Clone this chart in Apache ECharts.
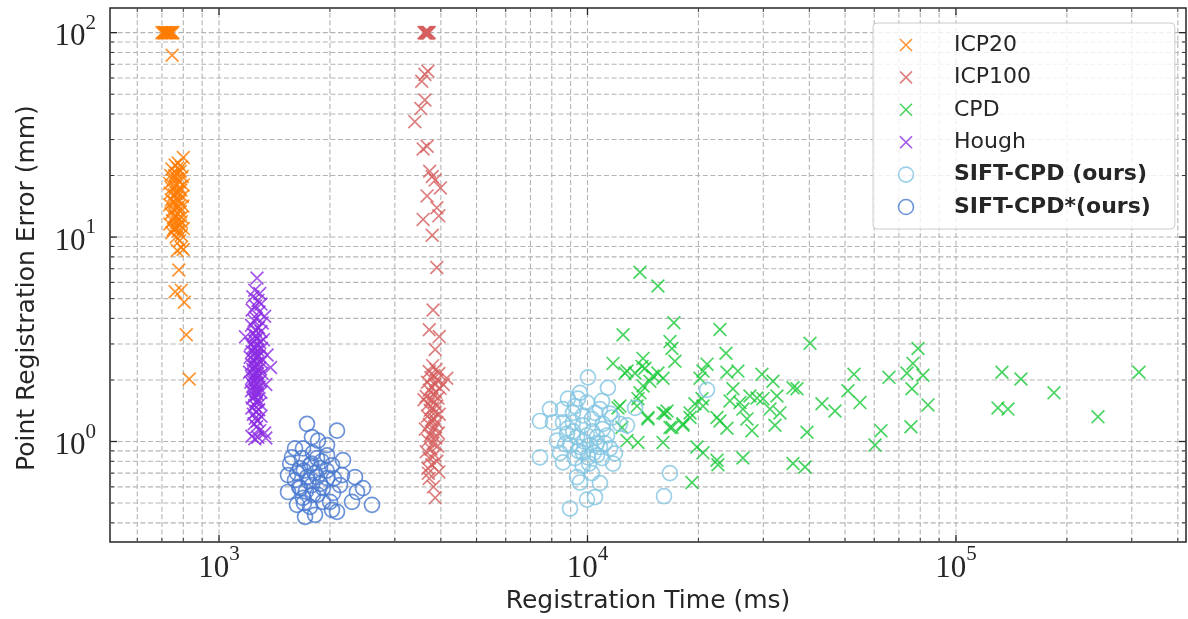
<!DOCTYPE html>
<html>
<head>
<meta charset="utf-8">
<script src="https://cdn.jsdelivr.net/npm/echarts@6/dist/echarts.min.js"></script>
<style>
  html, body { margin: 0; padding: 0; background: #ffffff; }
  #chart { width: 1188px; height: 619px; }
</style>
</head>
<body>
<div id="chart"></div>
<script>
// ---- axis ranges and tick positions ----
const X_MIN = 506, X_MAX = 421000;
const Y_MIN = 0.322, Y_MAX = 132;
const X_MAJOR = [1000, 10000, 100000];
const X_MINOR = [600, 700, 800, 900, 2000, 3000, 4000, 5000, 6000, 7000, 8000, 9000,
  20000, 30000, 40000, 50000, 60000, 70000, 80000, 90000, 200000, 300000, 400000];
const Y_MAJOR = [1, 10, 100];
const Y_MINOR = [0.4, 0.5, 0.6, 0.7, 0.8, 0.9, 2, 3, 4, 5, 6, 7, 8, 9,
  20, 30, 40, 50, 60, 70, 80, 90];

const X_TITLE = 'Registration Time (ms)';
const Y_TITLE = 'Point Registration Error (mm)';

// ---- measurements: [registration time (ms), point registration error (mm)] ----
const icp20 = [
  [700, 100], [705, 100], [710, 100], [714, 100], [718, 100], [722, 100], [726, 100],
  [730, 100], [734, 100], [738, 100], [742, 100], [746, 100], [750, 100], [712, 100],
  [746, 77.5],
  [800, 24.5], [775, 23], [760, 22.5], [790, 22], [745, 21.5], [785, 21], [765, 20.5],
  [740, 20], [795, 19.8], [770, 19.3], [750, 19], [780, 18.6], [735, 18.3], [800, 18],
  [762, 17.7], [745, 17.3], [788, 17], [772, 16.7], [738, 16.4], [755, 16.1], [795, 15.8],
  [768, 15.5], [742, 15.2], [782, 15], [758, 14.7], [735, 14.4], [798, 14.2], [770, 13.9],
  [750, 13.6], [785, 13.3], [740, 13], [762, 12.8], [792, 12.5], [775, 12.3], [748, 12],
  [768, 11.8], [735, 11.6], [785, 11.4], [758, 11.1], [800, 11], [775, 10.7], [745, 10.5],
  [790, 10.2], [765, 10], [782, 9.6], [790, 8.9], [770, 8.6], [800, 8.7], [778, 6.9],
  [760, 5.4], [790, 5.5], [805, 4.8], [815, 3.33], [830, 2.02],
  [772, 21.8], [758, 20], [782, 17.5], [765, 16.4], [752, 14.9], [778, 14.1], [760, 12.6],
  [790, 11.9], [770, 11.2], [752, 10.9]
];

const icp100 = [
  [3600, 100], [3615, 100], [3630, 100], [3645, 100], [3660, 100], [3675, 100], [3690, 100],
  [3705, 100], [3720, 100], [3640, 100], [3665, 100], [3700, 100],
  [3690, 64.7], [3620, 62.5], [3550, 57.8], [3620, 46.8], [3530, 42.5], [3400, 36.7],
  [3580, 27], [3670, 27.8], [3730, 21], [3790, 19.8], [3860, 19], [3990, 17.4], [3670, 15.9],
  [3900, 13.9], [3950, 12.7], [3580, 12.2], [3790, 10.2], [3900, 7.1], [3810, 4.4],
  [3720, 3.52], [3960, 3.26], [3860, 2.82], [4150, 2.04],
  [3800, 2.35], [3880, 2.25], [3720, 2.2], [3950, 2.15], [3830, 2.1], [3760, 2.05], [3900, 2.0],
  [3680, 1.95], [3850, 1.9], [3780, 1.85], [3980, 1.82], [3720, 1.78], [3870, 1.74], [3810, 1.7],
  [3650, 1.66], [3930, 1.63], [3760, 1.6], [3840, 1.56], [3700, 1.52], [3900, 1.49], [3790, 1.46],
  [3740, 1.42], [3860, 1.39], [3960, 1.36], [3680, 1.33], [3820, 1.3], [3770, 1.27], [3900, 1.24],
  [3720, 1.21], [3850, 1.18], [3630, 1.15], [3790, 1.12], [3940, 1.1], [3740, 1.07], [3870, 1.04],
  [3690, 1.01], [3810, 0.98], [3920, 0.95], [3760, 0.92], [3650, 0.89], [3850, 0.86], [3720, 0.83],
  [3900, 0.8], [3780, 0.77], [3690, 0.74], [3720, 0.66], [3860, 0.53], [3820, 0.6], [3950, 0.71],
  [4060, 1.9], [3600, 1.6], [3700, 0.7]
];

const cpd = [
  [13880, 6.73], [15530, 5.76], [17160, 3.81], [12490, 3.33], [16740, 3.08], [16950, 2.85],
  [17270, 2.47], [11730, 2.41], [14150, 2.55], [12640, 2.16], [13460, 2.16], [14320, 2.28],
  [15050, 2.09], [14770, 1.97], [15530, 2.16], [16030, 2.04], [14150, 1.87], [13880, 1.73],
  [13710, 1.62], [12250, 1.49], [13630, 1.49], [14590, 1.29], [16030, 1.38], [16430, 1.41],
  [16950, 1.17], [18160, 1.22], [18980, 1.38], [19570, 1.53], [20200, 2.04], [21100, 2.39],
  [20580, 2.21], [22880, 3.53], [23760, 2.70], [23910, 2.18], [25600, 2.21], [24820, 1.81],
  [24360, 1.58], [25930, 1.55], [26420, 1.44], [27600, 1.67], [28840, 1.63], [29940, 1.62],
  [29750, 2.13], [31870, 1.97], [32670, 1.67], [31280, 1.44], [33290, 1.38], [32270, 1.20],
  [22460, 1.31], [22880, 1.26], [23910, 1.16], [27090, 1.29], [27950, 1.13], [20450, 1.62],
  [20580, 1.49], [18980, 1.31], [18160, 1.20], [19820, 0.94], [20580, 0.88], [22460, 0.81],
  [22600, 0.77], [26420, 0.83], [36120, 1.83], [37030, 1.81], [40170, 3.02], [43290, 1.53],
  [46950, 1.41], [50920, 1.77], [52860, 2.13], [54880, 1.55], [39420, 1.11], [36120, 0.78],
  [38930, 0.75], [62590, 1.13], [60290, 0.96], [65800, 2.06], [19210, 0.63], [13710, 0.99],
  [16030, 0.99], [12800, 2.21], [14060, 2.33], [12100, 1.46], [14590, 1.31], [16230, 1.37],
  [16740, 1.17], [12800, 1.01], [12400, 1.17], [78880, 2.85], [76430, 2.41], [73620, 2.16],
  [81380, 2.11], [75960, 1.81], [83950, 1.51], [75480, 1.18], [133300, 2.18], [150100, 2.02],
  [184500, 1.73], [130000, 1.46], [138400, 1.44], [242900, 1.32], [313800, 2.18]
];

const hough = [
  [1268, 6.3], [1250, 5.5], [1290, 5.3], [1235, 5.1], [1275, 4.9], [1300, 4.7], [1255, 4.6],
  [1230, 4.4], [1285, 4.3], [1330, 4.1], [1262, 4.0], [1245, 3.9], [1310, 3.8], [1225, 3.7],
  [1280, 3.6], [1255, 3.5], [1300, 3.45], [1238, 3.35], [1180, 3.25], [1270, 3.2], [1320, 3.15],
  [1250, 3.1], [1290, 3.05], [1220, 3.0], [1265, 2.95], [1240, 2.9], [1305, 2.85], [1275, 2.8],
  [1230, 2.75], [1255, 2.7], [1350, 2.65], [1285, 2.62], [1215, 2.58], [1260, 2.55], [1240, 2.5],
  [1300, 2.45], [1270, 2.42], [1225, 2.38], [1250, 2.35], [1380, 2.3], [1290, 2.28], [1235, 2.25],
  [1262, 2.2], [1210, 2.18], [1310, 2.15], [1245, 2.12], [1278, 2.08], [1230, 2.05], [1258, 2.02],
  [1295, 1.98], [1220, 1.95], [1268, 1.92], [1340, 1.9], [1240, 1.87], [1285, 1.84], [1255, 1.8],
  [1225, 1.77], [1300, 1.74], [1270, 1.7], [1245, 1.67], [1235, 1.63], [1275, 1.6], [1260, 1.56],
  [1290, 1.53], [1250, 1.5], [1228, 1.46], [1282, 1.43], [1262, 1.4], [1240, 1.36], [1300, 1.33],
  [1255, 1.3], [1272, 1.26], [1245, 1.22], [1265, 1.18], [1290, 1.13], [1330, 1.10], [1228, 1.06],
  [1275, 1.05], [1340, 1.04], [1250, 1.03],
  [1258, 3.3], [1248, 2.85], [1266, 2.62], [1252, 2.3], [1272, 2.15], [1244, 1.95], [1262, 1.75]
];

const siftCpd = [
  [10030, 2.06], [11360, 1.83], [9540, 1.73], [8850, 1.62], [7910, 1.44], [7430, 1.26],
  [10950, 1.58], [9970, 1.55], [9250, 1.49], [10480, 1.38], [11650, 1.31], [8580, 1.24],
  [8265, 1.01], [9130, 1.24], [9720, 1.20], [11020, 1.22], [12250, 1.22], [12800, 1.20],
  [8800, 1.09], [9365, 1.05], [9970, 1.07], [10610, 1.05], [11300, 1.07], [8965, 0.96],
  [9540, 0.94], [10160, 0.96], [10810, 0.94], [11510, 0.925], [8420, 0.88], [7430, 0.837],
  [8580, 0.79], [9250, 0.83], [10030, 0.837], [10950, 0.83], [11730, 0.78], [9365, 0.67],
  [9540, 0.63], [10280, 0.70], [10810, 0.626], [9970, 0.52], [10480, 0.535], [8965, 0.47],
  [16740, 0.70], [16130, 0.54], [8060, 1.24], [9720, 1.34], [10280, 1.29], [10810, 1.44],
  [9130, 1.38], [8580, 1.44], [9425, 1.62], [8850, 1.16], [11150, 0.98], [11870, 0.875],
  [9720, 0.88], [10610, 0.855], [11510, 1.37], [21100, 1.79], [13460, 1.46],
  [9800, 1.0], [10300, 1.12], [9450, 0.90], [10600, 0.98], [9150, 1.12], [10100, 0.78],
  [9700, 0.76], [11000, 1.15], [8700, 0.97], [10400, 0.88]
];

const siftCpdStar = [
  [1733, 1.22], [2090, 1.13], [1788, 1.05], [1856, 1.01], [1578, 0.837], [1690, 0.925],
  [1799, 0.88], [1964, 0.855], [2170, 0.81], [1539, 0.685], [1659, 0.74], [1766, 0.765],
  [1880, 0.74], [2026, 0.765], [2157, 0.685], [2339, 0.67], [2459, 0.592], [2601, 0.49],
  [2296, 0.507], [1539, 0.566], [1659, 0.592], [1788, 0.612], [1915, 0.592], [2039, 0.56],
  [2130, 0.612], [1628, 0.49], [1766, 0.479], [1712, 0.428], [1822, 0.438], [2026, 0.463],
  [2090, 0.453], [1915, 0.507], [2368, 0.566], [1608, 0.647], [1733, 0.67], [1845, 0.67],
  [1964, 0.662], [1680, 0.83], [1845, 0.83], [1608, 0.925], [1964, 0.96], [1799, 0.548],
  [1690, 0.53], [2001, 0.507],
  [1700, 0.72], [1820, 0.70], [1750, 0.64], [1880, 0.62], [1650, 0.60], [1720, 0.57],
  [1900, 0.80], [1780, 0.78], [1630, 0.70], [1960, 0.72], [2050, 0.66], [1560, 0.78],
  [1700, 0.50], [1850, 0.55]
];

// ---- styling ----
const SANS = 'DejaVu Sans';
const SERIF = 'Liberation Serif';
const INK = '#262626';
const GRID_COLOR = '#b4b4b4';
// cross marker; the outer move-to points pad the bounding box so the cross is a bit
// smaller than the circle markers at the same symbol size
const CROSS = 'path://M-1.25 -1.25M0 0L10 10M10 0L0 10M11.25 11.25';
const BOLD_NAMES = ['SIFT-CPD (ours)', 'SIFT-CPD*(ours)'];

const SERIES = [
  { name: 'ICP20', data: icp20, color: '#ff7c00', symbol: CROSS, size: 16 },
  { name: 'ICP100', data: icp100, color: '#d65f5f', symbol: CROSS, size: 16 },
  { name: 'CPD', data: cpd, color: '#1ac938', symbol: CROSS, size: 16 },
  { name: 'Hough', data: hough, color: '#8b2be2', symbol: CROSS, size: 16 },
  { name: 'SIFT-CPD (ours)', data: siftCpd, color: '#82c6e2', symbol: 'circle', size: 15 },
  { name: 'SIFT-CPD*(ours)', data: siftCpdStar, color: '#4878d0', symbol: 'circle', size: 15 }
];

function powerLabel(v) {
  const e = Math.round(Math.log10(v));
  if (Math.abs(Math.log10(v) - e) > 1e-6) return '';
  return '{b|10}{s|' + e + '}';
}
const powRich = {
  b: { fontFamily: SERIF, fontSize: 31, lineHeight: 40, verticalAlign: 'bottom', color: INK },
  s: { fontFamily: SERIF, fontSize: 21, lineHeight: 18, verticalAlign: 'top', color: INK }
};

// vertical grid lines + ticks on bottom and top spines
const xLineData = X_MAJOR.map(v => [v, 1, 1]).concat(X_MINOR.map(v => [v, 1, 0]));
// horizontal grid lines + ticks on left and right spines
const yLineData = Y_MAJOR.map(v => [1000, v, 1]).concat(Y_MINOR.map(v => [1000, v, 0]));

const dashStyle = { stroke: GRID_COLOR, lineWidth: 1.1, lineDash: [5, 2.6] };

function gridX(params, api) {
  const v = api.value(0);
  const a = api.coord([v, Y_MIN]), b = api.coord([v, Y_MAX]);
  return { type: 'line', shape: { x1: a[0], y1: a[1], x2: b[0], y2: b[1] }, style: dashStyle, silent: true };
}
function gridY(params, api) {
  const v = api.value(1);
  const a = api.coord([X_MIN, v]), b = api.coord([X_MAX, v]);
  return { type: 'line', shape: { x1: a[0], y1: a[1], x2: b[0], y2: b[1] }, style: dashStyle, silent: true };
}
function ticksX(params, api) {
  const v = api.value(0), major = api.value(2) === 1;
  const len = major ? 7 : 4;
  const a = api.coord([v, Y_MIN]), b = api.coord([v, Y_MAX]);
  const st = { stroke: INK, lineWidth: major ? 1.3 : 0.9 };
  return { type: 'group', children: [
    { type: 'line', shape: { x1: a[0], y1: a[1], x2: a[0], y2: a[1] - len }, style: st },
    { type: 'line', shape: { x1: b[0], y1: b[1], x2: b[0], y2: b[1] + len }, style: st }
  ] };
}
function ticksY(params, api) {
  const v = api.value(1), major = api.value(2) === 1;
  const len = major ? 7 : 4;
  const a = api.coord([X_MIN, v]), b = api.coord([X_MAX, v]);
  const st = { stroke: INK, lineWidth: major ? 1.3 : 0.9 };
  return { type: 'group', children: [
    { type: 'line', shape: { x1: a[0], y1: a[1], x2: a[0] + len, y2: a[1] }, style: st },
    { type: 'line', shape: { x1: b[0], y1: b[1], x2: b[0] - len, y2: b[1] }, style: st }
  ] };
}

const chart = echarts.init(document.getElementById('chart'), null, { renderer: 'canvas' });

const option = {
  animation: false,
  backgroundColor: '#ffffff',
  grid: {
    left: 110, right: 2, top: 8, bottom: 71,
    show: true, borderColor: INK, borderWidth: 1.5, backgroundColor: 'transparent'
  },
  xAxis: {
    type: 'log', logBase: 10, min: X_MIN, max: X_MAX,
    name: X_TITLE, nameLocation: 'middle', nameGap: 45,
    nameTextStyle: { fontFamily: SANS, fontSize: 25, color: INK },
    axisLine: { show: false }, axisTick: { show: false }, splitLine: { show: false },
    axisLabel: { formatter: powerLabel, rich: powRich, margin: 2, showMinLabel: false, showMaxLabel: false }
  },
  yAxis: {
    type: 'log', logBase: 10, min: Y_MIN, max: Y_MAX,
    name: Y_TITLE, nameLocation: 'middle', nameGap: 70,
    nameTextStyle: { fontFamily: SANS, fontSize: 25, color: INK, padding: [0, 26, 0, 0] },
    axisLine: { show: false }, axisTick: { show: false }, splitLine: { show: false },
    axisLabel: { formatter: powerLabel, rich: powRich, margin: 14, showMinLabel: false, showMaxLabel: false }
  },
  legend: {
    data: SERIES.map(s => s.name),
    orient: 'vertical', left: 873, top: 23,
    itemWidth: 26, itemHeight: 15, itemGap: 10.4,
    padding: [11, 24, 11, 23],
    backgroundColor: 'rgba(255,255,255,0.8)', borderColor: '#cccccc', borderWidth: 1, borderRadius: 4,
    itemStyle: { borderWidth: 1.6 },
    formatter: name => (BOLD_NAMES.includes(name) ? '{g|}{bd|' + name + '}' : '{g|}{n|' + name + '}'),
    textStyle: {
      rich: {
        g: { width: 30 },
        n: { fontFamily: SANS, fontSize: 22, lineHeight: 26, color: INK },
        bd: { fontFamily: SANS, fontSize: 22, lineHeight: 26, fontWeight: 'bold', color: INK }
      }
    }
  },
  series: [
    { type: 'custom', name: 'gridX', renderItem: gridX, data: xLineData, encode: { x: 0, y: 1 }, z: 0, silent: true, clip: false },
    { type: 'custom', name: 'gridY', renderItem: gridY, data: yLineData, encode: { x: 0, y: 1 }, z: 0, silent: true, clip: false },
    ...SERIES.map(s => ({
      type: 'scatter', name: s.name, data: s.data,
      symbol: s.symbol, symbolSize: s.size, z: 2,
      itemStyle: { color: 'none', borderColor: s.color, borderWidth: 1.7 },
      emphasis: { disabled: true }
    })),
    { type: 'custom', name: 'ticksX', renderItem: ticksX, data: xLineData, encode: { x: 0, y: 1 }, z: 5, silent: true, clip: false },
    { type: 'custom', name: 'ticksY', renderItem: ticksY, data: yLineData, encode: { x: 0, y: 1 }, z: 5, silent: true, clip: false }
  ]
};

chart.setOption(option);
</script>
</body>
</html>
